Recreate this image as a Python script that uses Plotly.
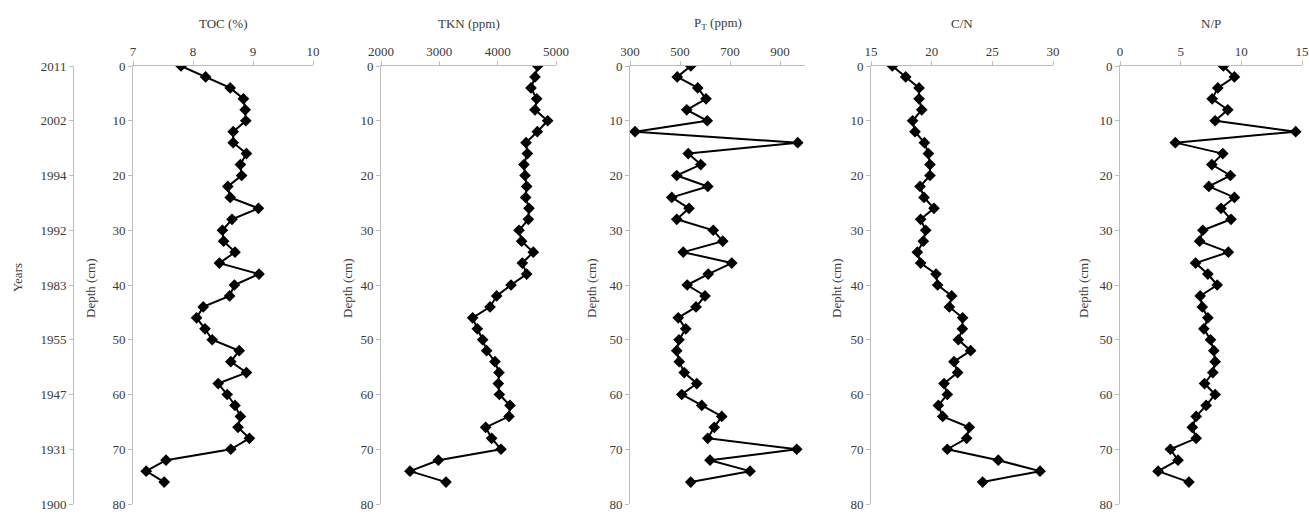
import plotly.graph_objects as go

depth = list(range(0, 78, 2))  # 0..76 cm

toc = [7.80, 8.21, 8.62, 8.84, 8.87, 8.88, 8.67, 8.67, 8.89, 8.79,
       8.81, 8.58, 8.62, 9.09, 8.65, 8.49, 8.51, 8.70, 8.44, 9.10,
       8.69, 8.61, 8.17, 8.06, 8.20, 8.32, 8.77, 8.63, 8.89, 8.42,
       8.57, 8.70, 8.79, 8.75, 8.94, 8.63, 7.55, 7.22, 7.52]

tkn = [4686, 4640, 4571, 4669, 4640, 4857, 4680, 4486, 4509, 4451,
       4469, 4497, 4480, 4537, 4526, 4366, 4411, 4611, 4423, 4497,
       4229, 3983, 3869, 3571, 3651, 3743, 3811, 3954, 4023, 4011,
       4029, 4211, 4194, 3794, 3897, 4057, 2983, 2497, 3114]

pt = [543, 489, 571, 604, 527, 609, 320, 971, 533, 583,
      487, 611, 467, 536, 487, 633, 671, 513, 707, 613,
      529, 600, 564, 493, 523, 496, 487, 497, 517, 567,
      507, 587, 667, 637, 611, 967, 620, 780, 543]

cn = [16.76, 17.86, 18.96, 18.96, 19.18, 18.43, 18.63, 19.40, 19.73, 19.86,
      19.86, 19.04, 19.37, 20.19, 19.09, 19.51, 19.31, 18.82, 19.09, 20.36,
      20.49, 21.65, 21.46, 22.55, 22.53, 22.20, 23.21, 21.84, 22.14, 21.02,
      21.29, 20.55, 20.91, 23.10, 22.88, 21.29, 25.49, 28.93, 24.20]

np_ratio = [8.52, 9.43, 8.06, 7.60, 8.88, 7.84, 14.48, 4.56, 8.47, 7.57,
            9.10, 7.32, 9.43, 8.33, 9.15, 6.83, 6.56, 8.93, 6.23, 7.24,
            8.01, 6.61, 6.78, 7.24, 6.91, 7.46, 7.73, 7.84, 7.65, 6.97,
            7.84, 7.10, 6.28, 5.96, 6.28, 4.15, 4.78, 3.14, 5.68]

year_depths = [0, 10, 20, 30, 40, 50, 60, 70, 80]
year_labels = ["2011", "2002", "1994", "1992", "1983", "1955", "1947", "1931", "1900"]

panel_titles = ["TOC (%)", "TKN (ppm)", "P<sub>T</sub> (ppm)", "C/N", "N/P"]
depth_titles = ["Depth (cm)", "Depth (cm)", "Depth (cm)", "Depht (cm)", "Depth (cm)"]
series = [toc, tkn, pt, cn, np_ratio]
x_ranges = [[7, 10], [2000, 5000], [300, 1000], [15, 30], [0, 15]]
x_ticks = [[7, 8, 9, 10], [2000, 3000, 4000, 5000], [300, 500, 700, 900],
           [15, 20, 25, 30], [0, 5, 10, 15]]

W, H = 1309, 518
panel_px = [(133, 313), (381, 556), (630, 805), (871, 1053), (1120, 1302)]
ytitle_px = [90, 347, 591, 836, 1083]
top_px, bot_px = 66, 504
ydom = [1 - bot_px / H, 1 - top_px / H]

FONT = "Liberation Serif, Times New Roman, serif"
TXT = "#3a3a3a"
AXC = "#bdbdbd"

fig = go.Figure()
layout = dict(
    template="none",
    width=W, height=H,
    margin=dict(l=0, r=0, t=0, b=0, pad=0, autoexpand=False),
    paper_bgcolor="white", plot_bgcolor="white",
    showlegend=False,
    font=dict(family=FONT, size=13, color=TXT),
)
annotations = []

for i, (vals, xr, xt) in enumerate(zip(series, x_ranges, x_ticks)):
    k = "" if i == 0 else str(i + 1)
    fig.add_trace(go.Scatter(
        x=vals, y=depth, mode="lines+markers",
        xaxis="x" + k, yaxis="y" + k,
        line=dict(color="black", width=2),
        marker=dict(symbol="diamond", size=9, color="black"),
        hoverinfo="skip",
    ))
    x0, x1 = panel_px[i]
    layout["xaxis" + k] = dict(
        domain=[x0 / W, x1 / W], range=xr, tickvals=xt,
        side="top", anchor="y" + k, automargin=False,
        ticklabeloverflow="allow",
        showline=True, linecolor=AXC, linewidth=1,
        ticks="outside", ticklen=4, tickcolor=AXC,
        showgrid=False, zeroline=False,
        tickfont=dict(family=FONT, size=13, color=TXT),
    )
    layout["yaxis" + k] = dict(
        domain=ydom, range=[80, 0], dtick=10, tick0=0,
        anchor="x" + k, automargin=False,
        showline=True, linecolor=AXC, linewidth=1,
        ticks="outside", ticklen=4, tickcolor=AXC,
        showgrid=False, zeroline=False,
        tickfont=dict(family=FONT, size=13, color=TXT),
    )
    annotations.append(dict(
        text=panel_titles[i], xref="paper", yref="paper",
        x=(x0 + x1) / 2 / W, y=1 - 23 / H, showarrow=False,
        xanchor="center", yanchor="middle",
        font=dict(family=FONT, size=13, color=TXT),
    ))
    annotations.append(dict(
        text=depth_titles[i], xref="paper", yref="paper",
        x=ytitle_px[i] / W, y=1 - 288 / H, showarrow=False,
        textangle=-90, xanchor="center", yanchor="middle",
        font=dict(family=FONT, size=13, color=TXT),
    ))

# Years axis (free-floating)
fig.add_trace(go.Scatter(
    x=[8] * len(year_depths), y=year_depths, xaxis="x", yaxis="y6",
    mode="markers", marker=dict(opacity=0, size=1), hoverinfo="skip",
))
layout["yaxis6"] = dict(
    domain=ydom, range=[80, 0], overlaying="y", anchor="free",
    position=73 / W, side="left", automargin=False,
    tickvals=year_depths, ticktext=year_labels,
    showline=True, linecolor=AXC, linewidth=1,
    ticks="outside", ticklen=4, tickcolor=AXC,
    showgrid=False, zeroline=False,
    tickfont=dict(family=FONT, size=13, color=TXT),
)
annotations.append(dict(
    text="Years", xref="paper", yref="paper",
    x=17 / W, y=1 - 278 / H, showarrow=False,
    textangle=-90, xanchor="center", yanchor="middle",
    font=dict(family=FONT, size=13, color=TXT),
))

layout["annotations"] = annotations
fig.update_layout(**layout)
fig.write_html("out.html")
